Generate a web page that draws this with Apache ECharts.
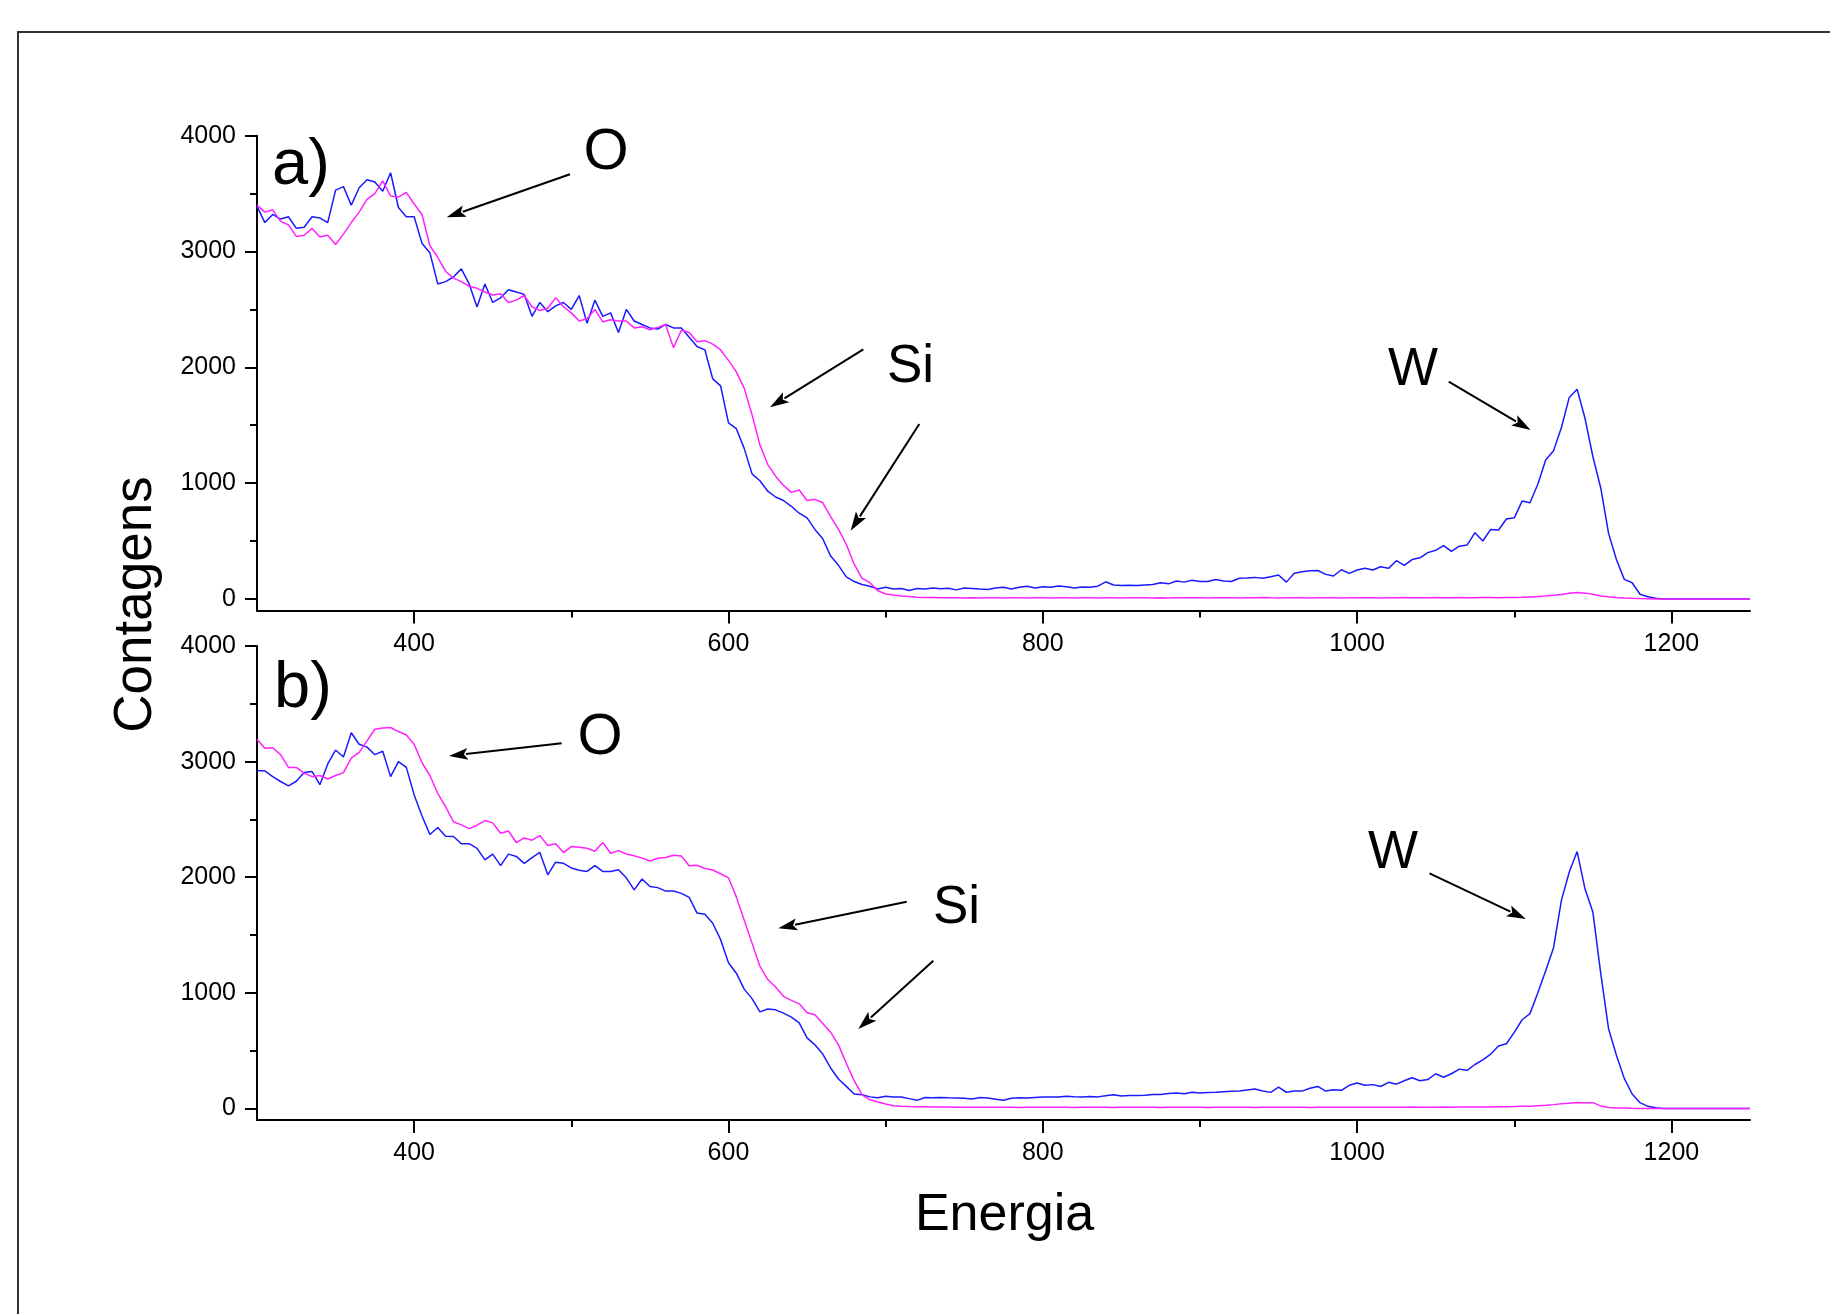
<!DOCTYPE html>
<html>
<head>
<meta charset="utf-8">
<script src="https://cdn.jsdelivr.net/npm/echarts@6/dist/echarts.min.js"></script>
<style>
html,body{margin:0;padding:0;background:#fff;}
#chart{width:1830px;height:1314px;}
</style>
</head>
<body>
<div id="chart"></div>
<script>
// Energy channels: 300, 305, ... 1250
const energyStart = 300;
const energyStep = 5;

// Panel a) counts
const blueA = [
3390,3250,3320,3280,3300,3200,3210,3300,3290,3250,
3530,3560,3400,3550,3620,3600,3520,3680,3380,3300,
3300,3070,2990,2720,2740,2780,2850,2720,2520,2720,
2560,2600,2670,2650,2630,2440,2560,2480,2530,2560,
2500,2620,2380,2580,2440,2470,2300,2500,2400,2370,
2340,2330,2370,2340,2340,2260,2180,2150,1900,1840,
1520,1470,1300,1080,1020,930,880,850,800,740,
700,600,520,370,290,190,150,125,110,85,
100,85,90,72,90,85,95,88,92,78,
95,90,85,82,95,100,85,100,110,95,
105,100,112,105,95,102,100,110,148,120,
115,118,115,120,125,140,130,155,145,162,
150,150,168,155,150,178,180,186,178,192,
206,145,222,235,244,245,212,198,252,221,
250,265,250,278,264,330,290,340,355,400,
420,460,410,455,465,572,500,600,595,690,
700,845,830,990,1200,1280,1480,1740,1810,1560,
1230,960,566,340,169,140,40,19,5,0,
0,0,0,0,0,0,0,0,0,0,
0];
const magentaA = [
3400,3340,3360,3260,3230,3130,3140,3200,3125,3140,
3060,3150,3250,3340,3450,3500,3610,3480,3470,3510,
3410,3320,3050,2950,2830,2770,2740,2700,2682,2650,
2624,2635,2560,2580,2620,2523,2490,2510,2600,2523,
2470,2400,2420,2500,2393,2410,2400,2400,2340,2350,
2325,2345,2370,2170,2320,2300,2220,2230,2200,2150,
2060,1960,1820,1590,1330,1160,1060,980,920,940,
850,860,830,710,600,470,300,177,140,70,
43,33,26,20,15,13,12,11,10,10,
9,10,9,11,10,9,10,11,9,10,
10,9,11,10,9,10,10,9,11,10,
9,10,10,11,9,10,9,10,11,10,
10,9,10,11,10,9,10,10,12,10,
9,10,11,10,9,11,10,10,9,11,
10,11,10,9,11,10,12,11,10,11,
12,11,10,12,11,10,12,13,11,12,
12,14,17,20,25,32,38,48,55,50,
40,25,18,12,8,5,3,2,0,0,
0,0,0,0,0,0,0,0,0,0,
0];

// Panel b) counts
const blueB = [
2920,2920,2870,2828,2790,2830,2905,2915,2800,2980,
3100,3040,3250,3150,3125,3060,3090,2870,3000,2950,
2712,2530,2370,2430,2355,2352,2290,2290,2250,2150,
2200,2100,2200,2180,2120,2170,2214,2021,2130,2120,
2080,2060,2050,2100,2050,2050,2064,1995,1890,1985,
1920,1910,1880,1880,1860,1825,1690,1680,1602,1460,
1260,1170,1032,950,835,860,853,824,790,740,
610,550,470,350,255,191,125,118,100,92,
105,100,98,85,70,95,92,95,92,90,
88,82,95,90,80,70,88,92,90,95,
100,99,100,105,102,100,104,100,110,119,
108,112,111,115,120,120,130,134,128,140,
134,138,139,145,148,150,160,168,150,139,
184,140,150,150,175,190,150,162,157,200,
220,200,206,190,226,210,240,265,240,250,
300,270,300,340,330,380,420,470,540,560,
658,767,820,1000,1190,1390,1800,2045,2222,1900,
1700,1170,690,460,260,125,50,18,5,0,
0,0,0,0,0,0,0,0,0,0,
0];
const magentaB = [
3193,3115,3120,3060,2950,2950,2900,2870,2880,2850,
2880,2905,3030,3080,3180,3280,3290,3295,3260,3230,
3150,2990,2880,2726,2610,2480,2453,2420,2450,2490,
2470,2380,2400,2300,2340,2320,2360,2275,2290,2213,
2265,2260,2250,2225,2300,2207,2230,2201,2185,2165,
2140,2164,2170,2190,2184,2100,2104,2075,2062,2030,
1995,1830,1630,1430,1230,1115,1050,970,935,905,
828,810,735,660,550,390,240,118,75,55,
38,24,20,17,15,14,13,12,12,11,
11,10,11,10,10,11,10,9,10,10,
10,11,10,10,9,10,11,10,10,9,
10,10,11,10,10,9,10,10,11,10,
10,9,10,10,11,10,10,9,10,10,
10,11,10,10,9,10,10,11,10,10,
10,10,11,10,10,11,10,12,11,10,
11,12,11,12,12,13,12,13,14,15,
16,18,20,24,28,33,40,45,52,50,
50,22,8,4,3,1,0,0,0,0,
0,0,0,0,0,0,0,0,0,0,
0];

// Tick values / labels
const xMajorTicks = [400, 600, 800, 1000, 1200];
const xMinorTicks = [500, 700, 900, 1100];
const yMajorTicks = [0, 1000, 2000, 3000, 4000];
const yMinorTicks = [500, 1500, 2500, 3500];

const xTitle = 'Energia';
const yTitle = 'Contagens';

function pairs(arr) {
  return arr.map((v, i) => [energyStart + i * energyStep, v]);
}

const FONT = '"Liberation Sans", Arial, Helvetica, sans-serif';
const BLUE = '#1a1aff';
const MAGENTA = '#ff22ff';
const plain = v => String(v);

function xAxes(grid) {
  return [
    { gridIndex: grid, type: 'value', min: 300, max: 1250, position: 'bottom',
      axisLine: { show: true, onZero: false, lineStyle: { color: '#000', width: 2 } },
      axisTick: { show: true, customValues: xMajorTicks, length: 13, lineStyle: { color: '#000', width: 2 } },
      axisLabel: { show: true, customValues: xMajorTicks, formatter: plain, margin: 21, fontSize: 25, color: '#000', fontFamily: FONT },
      splitLine: { show: false } },
    { gridIndex: grid, type: 'value', min: 300, max: 1250, position: 'bottom',
      axisLine: { show: false, onZero: false },
      axisTick: { show: true, customValues: xMinorTicks, length: 7, lineStyle: { color: '#000', width: 2 } },
      axisLabel: { show: false },
      splitLine: { show: false } }
  ];
}
function yAxes(grid) {
  return [
    { gridIndex: grid, type: 'value', min: -100, max: 4000, position: 'left',
      axisLine: { show: true, onZero: false, lineStyle: { color: '#000', width: 2 } },
      axisTick: { show: true, customValues: yMajorTicks, length: 12, lineStyle: { color: '#000', width: 2 } },
      axisLabel: { show: true, customValues: yMajorTicks, formatter: plain, margin: 21, fontSize: 25, color: '#000', fontFamily: FONT },
      splitLine: { show: false } },
    { gridIndex: grid, type: 'value', min: -100, max: 4000, position: 'left',
      axisLine: { show: false, onZero: false },
      axisTick: { show: true, customValues: yMinorTicks, length: 7, lineStyle: { color: '#000', width: 2 } },
      axisLabel: { show: false },
      splitLine: { show: false } }
  ];
}

function lineSeries(data, xi, yi, color, z) {
  return { type: 'line', xAxisIndex: xi, yAxisIndex: yi, data: pairs(data),
    showSymbol: false, symbol: 'none', z: z,
    lineStyle: { color: color, width: 1.5 }, itemStyle: { color: color } };
}

function txt(text, x, y, size, align, rot) {
  return { type: 'text', x: x, y: y, rotation: rot || 0, silent: true, z: 100,
    style: { text: text, fill: '#000', font: size + 'px ' + FONT, align: align || 'center', verticalAlign: 'middle' } };
}
function arrow(x1, y1, x2, y2) {
  const dx = x2 - x1, dy = y2 - y1, L = Math.hypot(dx, dy);
  const ux = dx / L, uy = dy / L, hl = 19, hw = 6;
  const bx = x2 - ux * hl, by = y2 - uy * hl;
  return [
    { type: 'line', silent: true, z: 100, shape: { x1: x1, y1: y1, x2: bx + ux * 2, y2: by + uy * 2 },
      style: { stroke: '#000', lineWidth: 2 } },
    { type: 'polygon', silent: true, z: 100,
      shape: { points: [[x2, y2], [bx - uy * hw, by + ux * hw], [bx + ux * 4, by + uy * 4], [bx + uy * hw, by - ux * hw]] },
      style: { fill: '#000' } }
  ];
}

const graphics = [
  { type: 'rect', silent: true, z: 0, shape: { x: 18, y: 32, width: 2000, height: 2000 },
    style: { fill: 'none', stroke: '#333', lineWidth: 2 } },
  txt('a)', 272, 166.5, 65, 'left'),
  txt('b)', 274, 689.5, 65, 'left'),
  txt('O', 606, 152.5, 58, 'center'),
  txt('O', 600, 737.5, 58, 'center'),
  txt('Si', 887, 367, 53, 'left'),
  txt('Si', 933, 908.5, 53, 'left'),
  txt('W', 1413, 370, 53, 'center'),
  txt('W', 1393, 853.5, 53, 'center'),
  txt(xTitle, 1004.5, 1215.5, 52, 'center'),
  txt(yTitle, 136.5, 604.5, 53, 'center', Math.PI / 2),
  ...arrow(570, 174.3, 446.7, 217.3),
  ...arrow(863.3, 349.3, 770, 407.3),
  ...arrow(919.3, 424, 850.7, 530.7),
  ...arrow(1448.7, 381.7, 1530.6, 430),
  ...arrow(561.7, 743.3, 449, 756),
  ...arrow(906.7, 901.7, 778.3, 928.3),
  ...arrow(933.3, 960.7, 858.3, 1029),
  ...arrow(1429.5, 873.3, 1525.8, 919)
];

const chart = echarts.init(document.getElementById('chart'), null, { renderer: 'canvas' });
chart.setOption({
  animation: false,
  backgroundColor: '#fff',
  grid: [
    { left: 257, top: 135.7, width: 1493, height: 474.8 },
    { left: 257, top: 646, width: 1493, height: 474 }
  ],
  xAxis: [...xAxes(0), ...xAxes(1)],
  yAxis: [...yAxes(0), ...yAxes(1)],
  series: [
    lineSeries(blueA, 0, 0, BLUE, 2),
    lineSeries(magentaA, 0, 0, MAGENTA, 3),
    lineSeries(blueB, 2, 2, BLUE, 2),
    lineSeries(magentaB, 2, 2, MAGENTA, 3)
  ],
  graphic: graphics
});
</script>
</body>
</html>
